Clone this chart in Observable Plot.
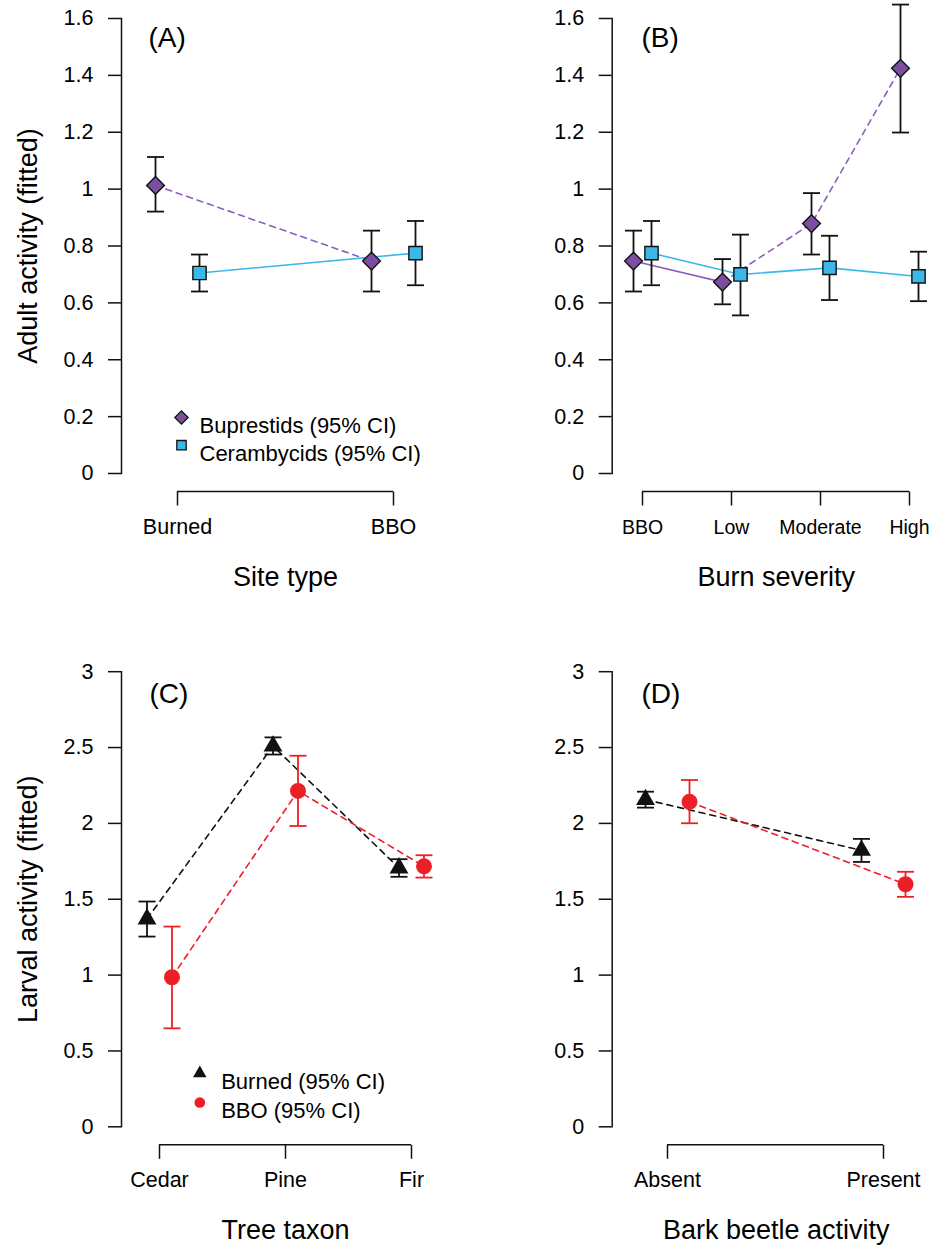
<!DOCTYPE html>
<html><head><meta charset="utf-8">
<script src="https://cdn.jsdelivr.net/npm/d3@7"></script>
<script src="https://cdn.jsdelivr.net/npm/@observablehq/plot@0.6"></script>
<style>
html,body{margin:0;padding:0;background:#fff;overflow:hidden}
#page{position:relative;width:930px;height:1252px;background:#fff}
#page svg{position:absolute}
</style></head><body><div id="page"></div>
<script>
// ---------- data ----------
const siteTypes = ["Burned", "BBO"];
const bupA = [1.013, 0.747], bupALo = [0.921, 0.640], bupAHi = [1.113, 0.854];
const cerA = [0.705, 0.775], cerALo = [0.640, 0.662], cerAHi = [0.770, 0.888];

const severity = ["BBO", "Low", "Moderate", "High"];
const bupB = [0.747, 0.673, 0.879, 1.425], bupBLo = [0.640, 0.595, 0.770, 1.199], bupBHi = [0.854, 0.754, 0.986, 1.649];
const cerB = [0.775, 0.700, 0.723, 0.693], cerBLo = [0.662, 0.556, 0.610, 0.606], cerBHi = [0.888, 0.840, 0.836, 0.780];

const taxa = ["Cedar", "Pine", "Fir"];
const burnedC = [1.370, 2.510, 1.706], burnedCLo = [1.254, 2.454, 1.648], burnedCHi = [1.485, 2.567, 1.764];
const bboC = [0.986, 2.214, 1.717], bboCLo = [0.649, 1.983, 1.643], bboCHi = [1.320, 2.446, 1.790];

const beetle = ["Absent", "Present"];
const burnedD = [2.157, 1.822], burnedDLo = [2.104, 1.746], burnedDHi = [2.209, 1.898];
const bboD = [2.142, 1.599], bboDLo = [2.001, 1.516], bboDHi = [2.286, 1.681];

const adultTicks = [0, 0.2, 0.4, 0.6, 0.8, 1, 1.2, 1.4, 1.6];
const larvalTicks = [0, 0.5, 1, 1.5, 2, 2.5, 3];
const adultLegend = ["Buprestids (95% CI)", "Cerambycids (95% CI)"];
const larvalLegend = ["Burned (95% CI)", "BBO (95% CI)"];

// ---------- style ----------
const FONT = '"Liberation Sans", Arial, Helvetica, sans-serif';
const PURPLE = "#7b4ea2", PURPLE_LINE = "#8c5fc0", BLUE = "#3cb7ea", RED = "#ec1f26", INK = "#111";

const vtick = {draw(ctx, size) { const L = Math.sqrt(size / Math.PI); ctx.moveTo(0, 0); ctx.lineTo(0, L); }};
const hcap = {draw(ctx, size) { const h = Math.sqrt(size / Math.PI); ctx.moveTo(-h, 0); ctx.lineTo(h, 0); }};

function rows(cats, v, lo, hi) { return cats.map((c, i) => ({cat: c, v: v[i], lo: lo[i], hi: hi[i]})); }

function panel(cfg) {
  const marks = [];
  const cats = cfg.cats;
  // y axis
  marks.push(Plot.frame({anchor: "left", stroke: INK, strokeWidth: 1.5}));
  marks.push(Plot.axisY({ticks: cfg.yTicks, tickSize: 13, tickPadding: 15, tickFormat: d => String(d),
    fontSize: 21.5, label: null, stroke: INK, strokeWidth: 1.5}));
  // detached x axis
  marks.push(Plot.ruleY([cfg.yDomain[0]], {x1: () => cats[0], x2: () => cats[cats.length - 1], dy: 18, stroke: INK, strokeWidth: 1.5}));
  marks.push(Plot.dot(cats, {x: d => d, frameAnchor: "bottom", dy: 18, symbol: vtick, r: 14, stroke: INK, fill: "none", strokeWidth: 1.5}));
  marks.push(Plot.text(cats, {x: d => d, frameAnchor: "bottom", dy: 60, text: d => d, textAnchor: "middle", fontSize: cfg.xTickFont || 21.5, fill: "black"}));
  // titles
  marks.push(Plot.text([cfg.xTitle], {frameAnchor: "bottom-left", dx: 164, dy: 112, text: d => d, textAnchor: "middle", fontSize: 27, fill: "black"}));
  if (cfg.yTitle) marks.push(Plot.text([cfg.yTitle], {frameAnchor: "left", dx: -93, rotate: -90, text: d => d, textAnchor: "middle", fontSize: 27, fill: "black"}));
  marks.push(Plot.text([cfg.label], {frameAnchor: "top-left", dx: cfg.labelDx, dy: cfg.labelDy, text: d => d, textAnchor: "start", fontSize: 28, fill: "black"}));
  // series
  for (const s of cfg.series) {
    for (const seg of s.segments) {
      marks.push(Plot.line(s.rows.slice(seg[0], seg[1]), {x: "cat", y: "v", dx: s.dx, stroke: s.line, strokeWidth: 1.6,
        strokeDasharray: seg[2] ? "6,5" : null}));
    }
  }
  for (const s of cfg.series) {
    marks.push(Plot.ruleX(s.rows, {x: "cat", y1: "lo", y2: "hi", dx: s.dx, stroke: s.eb, strokeWidth: 1.8}));
    marks.push(Plot.dot(s.rows, {x: "cat", y: "lo", dx: s.dx, symbol: hcap, r: 8.5, stroke: s.eb, fill: "none", strokeWidth: 1.8}));
    marks.push(Plot.dot(s.rows, {x: "cat", y: "hi", dx: s.dx, symbol: hcap, r: 8.5, stroke: s.eb, fill: "none", strokeWidth: 1.8}));
    marks.push(Plot.dot(s.rows, {x: "cat", y: "v", dx: s.dx, symbol: s.symbol, r: s.r, fill: s.fill, stroke: s.stroke, strokeWidth: s.stroke === "none" ? 0 : 1.4}));
  }
  // legend
  if (cfg.legend) {
    cfg.legend.items.forEach((txt, i) => {
      const s = cfg.series[i];
      marks.push(Plot.dot([txt], {frameAnchor: "top-left", dx: cfg.legend.dx, dy: cfg.legend.dy + i * cfg.legend.step,
        symbol: s.symbol, r: s.legendR, fill: s.fill, stroke: s.stroke, strokeWidth: s.stroke === "none" ? 0 : 1.3}));
      marks.push(Plot.text([txt], {frameAnchor: "top-left", dx: cfg.legend.tx, dy: cfg.legend.dy + i * cfg.legend.step,
        text: d => d, textAnchor: "start", fontSize: 22, fill: "black"}));
    });
  }
  const svg = Plot.plot({
    width: cfg.width, height: cfg.height,
    marginLeft: cfg.marginLeft, marginRight: cfg.marginRight, marginTop: cfg.marginTop, marginBottom: cfg.marginBottom,
    x: {type: "point", domain: cats, range: cfg.xRange, padding: 0, axis: null},
    y: {domain: cfg.yDomain},
    style: {fontFamily: FONT, background: "transparent", overflow: "visible", color: "black"},
    marks
  });
  svg.style.left = cfg.left + "px";
  svg.style.top = cfg.top + "px";
  return svg;
}

const page = document.getElementById("page");

page.appendChild(panel({
  left: 0, top: 0, width: 465, height: 620, marginLeft: 121, marginRight: 20, marginTop: 18, marginBottom: 147,
  cats: siteTypes, xRange: [177, 393], yDomain: [0, 1.6], yTicks: adultTicks,
  xTitle: "Site type", yTitle: "Adult activity (fitted)", label: "(A)", labelDx: 27, labelDy: 8.7,
  series: [
    {rows: rows(siteTypes, bupA, bupALo, bupAHi), dx: -22, line: PURPLE_LINE, segments: [[0, 2, true]], eb: INK,
     symbol: "diamond2", r: 8, legendR: 6, fill: PURPLE, stroke: INK},
    {rows: rows(siteTypes, cerA, cerALo, cerAHi), dx: 22, line: BLUE, segments: [[0, 2, false]], eb: INK,
     symbol: "square", r: 7.5, legendR: 5.3, fill: BLUE, stroke: INK}
  ],
  legend: {items: adultLegend, dx: 60, dy: 399, step: 27.7, tx: 78}
}));

page.appendChild(panel({
  left: 465, top: 0, width: 465, height: 620, marginLeft: 146.7, marginRight: 10, marginTop: 18, marginBottom: 147,
  cats: severity, xRange: [176.7, 444], yDomain: [0, 1.6], yTicks: adultTicks, xTickFont: 19.5,
  xTitle: "Burn severity", label: "(B)", labelDx: 29.3, labelDy: 8.7,
  series: [
    {rows: rows(severity, bupB, bupBLo, bupBHi), dx: -9, line: PURPLE_LINE, segments: [[0, 2, false], [1, 4, true]], eb: INK,
     symbol: "diamond2", r: 8, fill: PURPLE, stroke: INK},
    {rows: rows(severity, cerB, cerBLo, cerBHi), dx: 9, line: BLUE, segments: [[0, 4, false]], eb: INK,
     symbol: "square", r: 7.5, fill: BLUE, stroke: INK}
  ]
}));

page.appendChild(panel({
  left: 0, top: 620, width: 465, height: 632, marginLeft: 121, marginRight: 20, marginTop: 51.2, marginBottom: 125.7,
  cats: taxa, xRange: [159, 411.7], yDomain: [0, 3], yTicks: larvalTicks,
  xTitle: "Tree taxon", yTitle: "Larval activity (fitted)", label: "(C)", labelDx: 28, labelDy: 11.8,
  series: [
    {rows: rows(taxa, burnedC, burnedCLo, burnedCHi), dx: -12.5, line: INK, segments: [[0, 3, true]], eb: INK,
     symbol: "triangle", r: 7, legendR: 5, fill: INK, stroke: "none"},
    {rows: rows(taxa, bboC, bboCLo, bboCHi), dx: 12.5, line: RED, segments: [[0, 3, true]], eb: RED,
     symbol: "circle", r: 8, legendR: 5.3, fill: RED, stroke: "none"}
  ],
  legend: {items: larvalLegend, dx: 78.3, dy: 401.6, step: 29.2, tx: 99.7}
}));

page.appendChild(panel({
  left: 465, top: 620, width: 465, height: 632, marginLeft: 146.7, marginRight: 10, marginTop: 51.2, marginBottom: 125.7,
  cats: beetle, xRange: [201.7, 418.3], yDomain: [0, 3], yTicks: larvalTicks,
  xTitle: "Bark beetle activity", label: "(D)", labelDx: 29.3, labelDy: 11.8,
  series: [
    {rows: rows(beetle, burnedD, burnedDLo, burnedDHi), dx: -22, line: INK, segments: [[0, 2, true]], eb: INK,
     symbol: "triangle", r: 7, fill: INK, stroke: "none"},
    {rows: rows(beetle, bboD, bboDLo, bboDHi), dx: 22, line: RED, segments: [[0, 2, true]], eb: RED,
     symbol: "circle", r: 8, fill: RED, stroke: "none"}
  ]
}));
</script></body></html>
